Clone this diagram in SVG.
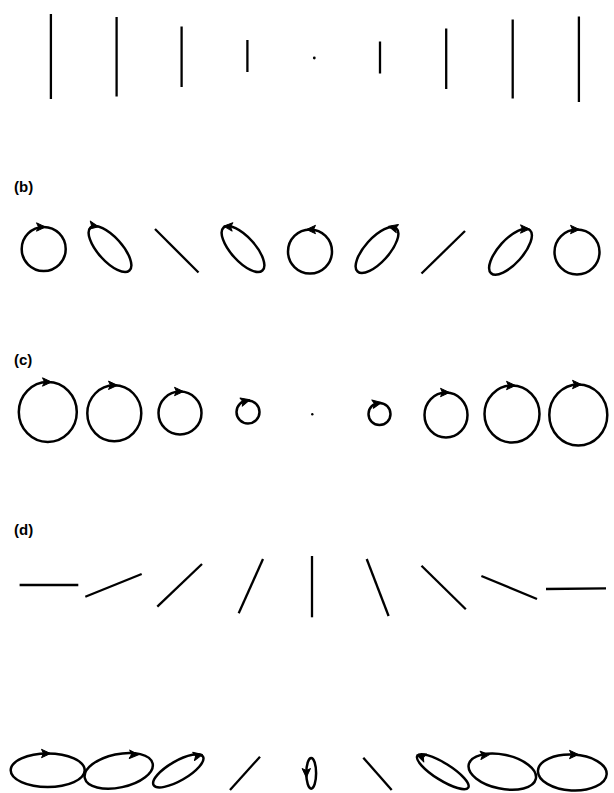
<svg xmlns="http://www.w3.org/2000/svg" xmlns:xlink="http://www.w3.org/1999/xlink" width="614" height="793" viewBox="0 0 614 793">
<style>
.s{fill:none;stroke:#000;stroke-width:2.5;stroke-linecap:round}
.l{fill:none;stroke:#000;stroke-width:2.3;stroke-linecap:butt}
.lab{font-family:"Liberation Sans",Arial,sans-serif;font-weight:bold;font-size:15px;fill:#000}
</style>
<defs>
<path id="ah" d="M-4.5,-4.2 L4.5,0 L-4.5,4.2 L-2.5,0 Z" fill="#000" stroke="#000" stroke-width="1" stroke-linejoin="round"/>
</defs>
<rect width="614" height="793" fill="#fff"/>

<g id="row-a">
<line class="l" x1="50.9" y1="14" x2="50.9" y2="99"/>
<line class="l" x1="116.6" y1="17" x2="116.6" y2="96.5"/>
<line class="l" x1="181.6" y1="26.5" x2="181.6" y2="87"/>
<line class="l" x1="247.4" y1="40" x2="247.4" y2="72"/>
<circle cx="314.3" cy="58" r="1.4" fill="#000"/>
<line class="l" x1="380" y1="41.5" x2="380" y2="73.5"/>
<line class="l" x1="446.2" y1="28.5" x2="446.2" y2="89"/>
<line class="l" x1="512.7" y1="19.5" x2="512.7" y2="98.5"/>
<line class="l" x1="578.9" y1="16.5" x2="578.9" y2="102"/>
</g>

<g id="row-b">
<text class="lab" x="14" y="192">(b)</text>
<circle class="s" cx="43.7" cy="249" r="22"/>
<use xlink:href="#ah" transform="translate(41,227)"/>
<ellipse class="s" cx="110" cy="249" rx="29" ry="12" transform="rotate(48 110 249)"/>
<use xlink:href="#ah" transform="translate(94,226) rotate(10)"/>
<line class="l" x1="155" y1="229" x2="198.5" y2="272.5"/>
<ellipse class="s" cx="243" cy="249" rx="29" ry="12" transform="rotate(48 243 249)"/>
<use xlink:href="#ah" transform="translate(228,226.5) rotate(185)"/>
<circle class="s" cx="310" cy="251.5" r="22"/>
<use xlink:href="#ah" transform="translate(311,229.5) rotate(180)"/>
<ellipse class="s" cx="377" cy="250" rx="29" ry="12" transform="rotate(-48 377 250)"/>
<use xlink:href="#ah" transform="translate(393,227.5) rotate(195)"/>
<line class="l" x1="421.5" y1="273.5" x2="465" y2="231"/>
<ellipse class="s" cx="510.5" cy="251.7" rx="29" ry="12" transform="rotate(-48 510.5 251.7)"/>
<use xlink:href="#ah" transform="translate(525,229)"/>
<circle class="s" cx="577" cy="252" r="22.5"/>
<use xlink:href="#ah" transform="translate(575,229.5)"/>
</g>

<g id="row-c">
<text class="lab" x="14" y="365">(c)</text>
<ellipse class="s" cx="47.8" cy="412" rx="29" ry="30"/>
<use xlink:href="#ah" transform="translate(47,382)"/>
<ellipse class="s" cx="114.3" cy="413.3" rx="27" ry="28"/>
<use xlink:href="#ah" transform="translate(113,385.3)"/>
<circle class="s" cx="180" cy="413" r="21.5"/>
<use xlink:href="#ah" transform="translate(179,391.5)"/>
<circle class="s" cx="248" cy="412" r="11.5"/>
<use xlink:href="#ah" transform="translate(245.5,401) rotate(-15)"/>
<circle cx="312.3" cy="414.3" r="1.2" fill="#000"/>
<circle class="s" cx="379.5" cy="414" r="11"/>
<use xlink:href="#ah" transform="translate(377,403.3) rotate(-10)"/>
<ellipse class="s" cx="446" cy="415" rx="21.5" ry="22.5"/>
<use xlink:href="#ah" transform="translate(445,392.5)"/>
<ellipse class="s" cx="512" cy="414" rx="27.5" ry="28.5"/>
<use xlink:href="#ah" transform="translate(511,385.5)"/>
<ellipse class="s" cx="578.3" cy="415" rx="29" ry="30.5"/>
<use xlink:href="#ah" transform="translate(577,384.5)"/>
</g>

<g id="row-d">
<text class="lab" x="14" y="535">(d)</text>
<line class="l" x1="19.6" y1="585" x2="78.3" y2="585"/>
<line class="l" x1="85.3" y1="596.7" x2="141.7" y2="574"/>
<line class="l" x1="157.3" y1="606.7" x2="202" y2="564"/>
<line class="l" x1="238.7" y1="613.3" x2="263" y2="559"/>
<line class="l" x1="312" y1="556" x2="312" y2="617.3"/>
<line class="l" x1="366.7" y1="559" x2="388.6" y2="616"/>
<line class="l" x1="421.5" y1="565.7" x2="465.8" y2="609.3"/>
<line class="l" x1="481.4" y1="576" x2="537" y2="599"/>
<line class="l" x1="546" y1="589" x2="606" y2="588.3"/>
</g>

<g id="row-e">
<ellipse class="s" cx="47.7" cy="770.3" rx="37" ry="16.8"/>
<use xlink:href="#ah" transform="translate(46,753.5)"/>
<ellipse class="s" cx="118.7" cy="770.8" rx="34.7" ry="16.7" transform="rotate(-12 118.7 770.8)"/>
<use xlink:href="#ah" transform="translate(134,754.5) rotate(3)"/>
<ellipse class="s" cx="178.3" cy="770.8" rx="28.5" ry="9.8" transform="rotate(-30 178.3 770.8)"/>
<use xlink:href="#ah" transform="translate(198,755.5) rotate(-12)"/>
<line class="l" x1="230" y1="790" x2="260" y2="756.7"/>
<ellipse class="s" cx="311.2" cy="773.3" rx="4.9" ry="15.4"/>
<use xlink:href="#ah" transform="translate(306.3,773) rotate(90)"/>
<line class="l" x1="363.3" y1="757.7" x2="391.7" y2="790"/>
<ellipse class="s" cx="442.8" cy="771.7" rx="30" ry="8.5" transform="rotate(32 442.8 771.7)"/>
<use xlink:href="#ah" transform="translate(421,756.5) rotate(200)"/>
<ellipse class="s" cx="502.3" cy="771.7" rx="34.3" ry="17" transform="rotate(12 502.3 771.7)"/>
<use xlink:href="#ah" transform="translate(485,755) rotate(-5)"/>
<ellipse class="s" cx="572.3" cy="772.5" rx="34.4" ry="18" transform="rotate(3 572.3 772.5)"/>
<use xlink:href="#ah" transform="translate(574,754.5)"/>
</g>
</svg>
